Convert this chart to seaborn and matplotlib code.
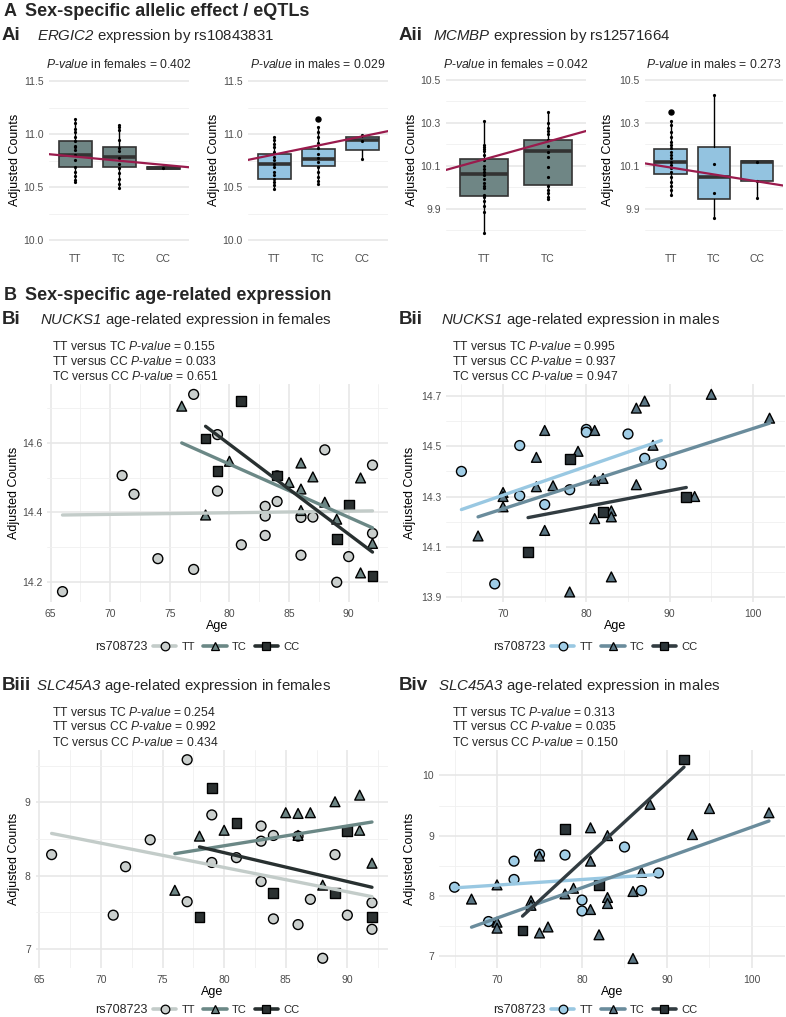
import numpy as np
import pandas as pd
import matplotlib
matplotlib.use("Agg")
import matplotlib.pyplot as plt
import seaborn as sns
from matplotlib.lines import Line2D

sns.set_theme(style="whitegrid")
plt.rcParams['font.family'] = ['Liberation Sans', 'DejaVu Sans']
plt.rcParams['mathtext.fontset'] = 'custom'
plt.rcParams['mathtext.rm'] = 'Liberation Sans'
plt.rcParams['mathtext.it'] = 'Liberation Sans:italic'
plt.rcParams['mathtext.sf'] = 'Liberation Sans:italic'
plt.rcParams['mathtext.bf'] = 'Liberation Sans:bold'

# ---------------- DATA ----------------
genotypes = ["TT", "TC", "CC"]

# Ai ERGIC2 females
ai_f_pts = {"TT": [11.138, 11.10, 11.05, 11.02, 10.97, 10.93, 10.89, 10.875, 10.85, 10.80, 10.755, 10.685, 10.645, 10.60, 10.57, 10.55],
            "TC": [11.085, 11.07, 11.04, 10.943, 10.865, 10.843, 10.77, 10.72, 10.675, 10.63, 10.58, 10.53, 10.487],
            "CC": [10.68]}
ai_f_q1 = [10.69, 10.69, 10.67]
ai_f_med = [10.80, 10.78, 10.68]
ai_f_q3 = [10.931, 10.88, 10.69]
ai_f_lo = [10.55, 10.487, 10.67]
ai_f_hi = [11.138, 11.085, 10.69]
ai_f_out = [[], [], []]
ai_f_fit = [10.81, 10.686]

# Ai ERGIC2 males
ai_m_pts = {"TT": [10.97, 10.94, 10.91, 10.874, 10.833, 10.786, 10.755, 10.717, 10.686, 10.645, 10.613, 10.58, 10.55, 10.52, 10.478],
            "TC": [11.063, 11.022, 10.97, 10.918, 10.865, 10.811, 10.77, 10.74, 10.69, 10.64, 10.594, 10.557, 10.53],
            "CC": [10.99, 10.937, 10.764]}
ai_m_q1 = [10.575, 10.698, 10.85]
ai_m_med = [10.72, 10.76, 10.943]
ai_m_q3 = [10.811, 10.858, 10.97]
ai_m_lo = [10.478, 10.53, 10.764]
ai_m_hi = [10.97, 11.063, 10.99]
ai_m_out = [[], [11.138], []]
ai_m_fit = [10.755, 11.028]

# Aii MCMBP females
aii_f_pts = {"TT": [10.309, 10.197, 10.19, 10.18, 10.17, 10.15, 10.128, 10.10, 10.085, 10.074, 10.058, 10.038, 10.023, 10.007, 9.997, 9.966, 9.955, 9.935, 9.912, 9.888, 9.787],
             "TC": [10.35, 10.298, 10.275, 10.264, 10.248, 10.22, 10.192, 10.166, 10.14, 10.097, 10.047, 10.007, 9.988, 9.972, 9.957, 9.945]}
aii_f_q1 = [9.96, 10.012]
aii_f_med = [10.063, 10.171]
aii_f_q3 = [10.131, 10.22]
aii_f_lo = [9.787, 9.943]
aii_f_hi = [10.309, 10.35]
aii_f_out = [[], []]
aii_f_fit = [10.081, 10.263]

# Aii MCMBP males
aii_m_pts = {"TT": [10.309, 10.291, 10.26, 10.233, 10.213, 10.198, 10.182, 10.167, 10.151, 10.136, 10.12, 10.105, 10.089, 10.074, 10.05, 10.027, 10.007, 9.988, 9.965],
             "TC": [10.43, 10.111, 9.976, 9.857],
             "CC": [10.117, 10.032, 9.951]}
aii_m_q1 = [10.063, 9.945, 10.032]
aii_m_med = [10.12, 10.047, 10.117]
aii_m_q3 = [10.178, 10.19, 10.123]
aii_m_lo = [9.965, 9.857, 9.951]
aii_m_hi = [10.309, 10.43, 10.123]
aii_m_out = [[10.352], [], []]
aii_m_fit = [10.112, 10.009]

# Bi NUCKS1 females
bi_age = {"TT": [66, 71, 72, 74, 77, 77, 79, 79, 81, 83, 83, 83, 84, 84, 86, 86, 87, 88, 89, 90, 92, 92],
          "TC": [76, 78, 80, 85, 86, 86, 86, 87, 88, 89, 91, 91, 92],
          "CC": [78, 79, 81, 84, 89, 90, 92]}
bi_cnt = {"TT": [14.171, 14.506, 14.452, 14.266, 14.74, 14.235, 14.624, 14.461, 14.306, 14.417, 14.389, 14.333, 14.431, 14.505, 14.385, 14.276, 14.386, 14.58, 14.198, 14.272, 14.536, 14.339],
          "TC": [14.706, 14.392, 14.547, 14.486, 14.542, 14.467, 14.405, 14.502, 14.429, 14.38, 14.499, 14.225, 14.31],
          "CC": [14.613, 14.52, 14.72, 14.506, 14.323, 14.42, 14.215]}
bi_fit_age = {"TT": [66, 92], "TC": [76, 92], "CC": [78, 92]}
bi_fit_cnt = {"TT": [14.392, 14.404], "TC": [14.60, 14.355], "CC": [14.648, 14.285]}

# Bii NUCKS1 males
bii_age = {"TT": [65, 69, 72, 72, 75, 78, 80, 80, 85, 87, 89],
           "TC": [67, 70, 70, 70, 74, 74, 75, 75, 76, 78, 79, 81, 81, 81, 82, 83, 83, 83, 86, 86, 87, 88, 93, 95, 102],
           "CC": [73, 78, 82, 92]}
bii_cnt = {"TT": [14.40, 13.952, 14.503, 14.303, 14.268, 14.327, 14.567, 14.556, 14.549, 14.452, 14.429],
           "TC": [14.143, 14.316, 14.30, 14.259, 14.456, 14.339, 14.563, 14.165, 14.343, 13.92, 14.48, 14.563, 14.365, 14.212, 14.372, 14.243, 14.219, 13.98, 14.652, 14.347, 14.68, 14.504, 14.30, 14.707, 14.612],
           "CC": [14.08, 14.449, 14.239, 14.299]}
bii_fit_age = {"TT": [65, 89], "TC": [67, 102], "CC": [73, 92]}
bii_fit_cnt = {"TT": [14.248, 14.523], "TC": [14.219, 14.592], "CC": [14.216, 14.336]}

# Biii SLC45A3 females
biii_age = {"TT": [66, 71, 72, 74, 77, 77, 79, 79, 81, 83, 83, 83, 84, 84, 86, 86, 87, 88, 89, 90, 92, 92],
            "TC": [76, 78, 80, 85, 86, 86, 87, 88, 89, 91, 91, 92],
            "CC": [78, 79, 81, 84, 89, 90, 92]}
biii_cnt = {"TT": [8.287, 7.46, 8.122, 8.49, 9.584, 7.644, 8.83, 8.18, 8.246, 8.678, 8.471, 7.92, 8.549, 7.409, 7.331, 8.54, 7.676, 6.871, 8.287, 7.46, 7.63, 7.267],
            "TC": [7.80, 8.54, 8.62, 8.86, 8.85, 8.55, 8.86, 7.87, 9.01, 9.10, 8.62, 8.17],
            "CC": [7.43, 9.198, 8.724, 7.759, 7.759, 8.609, 7.432]}
biii_fit_age = {"TT": [66, 92], "TC": [76, 92], "CC": [78, 92]}
biii_fit_cnt = {"TT": [8.577, 7.713], "TC": [8.30, 8.733], "CC": [8.393, 7.841]}

# Biv SLC45A3 males
biv_age = {"TT": [65, 69, 72, 72, 75, 78, 80, 80, 85, 87, 89],
           "TC": [67, 70, 70, 70, 74, 74, 75, 75, 76, 78, 79, 81, 81, 81, 82, 83, 83, 83, 86, 86, 87, 88, 93, 95, 102],
           "CC": [73, 78, 82, 92]}
biv_cnt = {"TT": [8.141, 7.57, 8.575, 8.27, 8.688, 8.677, 7.927, 7.746, 8.81, 8.085, 8.378],
           "TC": [7.944, 8.18, 7.56, 7.46, 7.915, 7.84, 8.66, 7.38, 7.48, 8.03, 8.124, 9.13, 8.575, 7.77, 7.35, 9.0, 7.97, 7.87, 8.07, 6.955, 8.39, 9.52, 9.017, 9.45, 9.38],
           "CC": [7.42, 9.11, 8.18, 10.265]}
biv_fit_age = {"TT": [65, 89], "TC": [67, 102], "CC": [73, 92]}
biv_fit_cnt = {"TT": [8.13, 8.353], "TC": [7.476, 9.243], "CC": [7.66, 10.14]}

# ---------------- STYLE ----------------
W, H = 786, 1017
fig = plt.figure(figsize=(W / 100, H / 100), dpi=100)
fig.patch.set_facecolor("white")

RED = "#9a1b4d"
BOX_F = "#6f8685"
BOX_M = "#93c3e0"
EDGE = "#333333"
F_FILL = {"TT": "#cacfcd", "TC": "#6d8584", "CC": "#2b3131"}
F_LINE = {"TT": "#c3ccc9", "TC": "#6b8886", "CC": "#283030"}
M_FILL = {"TT": "#a0cde6", "TC": "#5b7684", "CC": "#2b3438"}
M_LINE = {"TT": "#99c8e2", "TC": "#6a8c9c", "CC": "#323c41"}
MARKERS = {"TT": "o", "TC": "^", "CC": "s"}
TICK_C = "#4d4d4d"


def axes_px(l, t, r, b):
    return fig.add_axes([l / W, 1 - b / H, (r - l) / W, (b - t) / H])


def ftext(x, y, s, **kw):
    fig.text(x / W, 1 - y / H, s, va="center", ha="left", **kw)


def base_style(ax):
    ax.set_facecolor("white")
    for s in ax.spines.values():
        s.set_visible(False)
    ax.set_axisbelow(True)
    ax.grid(True, which="major", color="#e6e6e6", lw=1.1)
    ax.grid(True, which="minor", color="#f0f0f0", lw=0.6)
    ax.tick_params(which="both", length=0, labelsize=7.5, labelcolor=TICK_C, pad=3.5)


def set_ylabel_px(ax, box, xc):
    l, t, r, b = box
    ax.set_ylabel("Adjusted Counts", fontsize=9, color="black")
    ax.yaxis.set_label_coords((xc + 8 - l) / (r - l), 0.5)


def box_panel(box, pts, q1, med, q3, lo, hi, out, fit, fill, title, ylim, yt, ytl, yminor, ylab_x):
    ax = axes_px(*box)
    base_style(ax)
    cats = list(pts.keys())
    n = len(cats)
    rows = [(g, v) for g in cats for v in pts[g]]
    df = pd.DataFrame(rows, columns=["Genotype", "Counts"])
    stats = []
    for i in range(n):
        stats.append(dict(med=med[i], q1=q1[i], q3=q3[i], whislo=lo[i], whishi=hi[i], fliers=out[i]))
    ax.bxp(stats, positions=list(range(n)), widths=0.75, patch_artist=True, showcaps=False,
           manage_ticks=False,
           boxprops=dict(facecolor=fill, edgecolor=EDGE, lw=1.2),
           medianprops=dict(color=EDGE, lw=2.6, solid_capstyle="butt"),
           whiskerprops=dict(color="black", lw=1.0),
           flierprops=dict(marker="o", markerfacecolor="black", markeredgecolor="black", markersize=3.6),
           zorder=2)
    sns.stripplot(data=df, x="Genotype", y="Counts", order=cats, jitter=False, color="black",
                  size=2.3, ax=ax, zorder=3)
    fdf = pd.DataFrame({"x": [-0.6, n - 0.4], "y": fit})
    sns.lineplot(data=fdf, x="x", y="y", color=RED, lw=1.6, ax=ax, zorder=4)
    ax.set_xlim(-0.6, n - 0.4)
    ax.set_ylim(*ylim)
    ax.set_xticks(range(n))
    ax.set_xticklabels(cats)
    ax.set_yticks(yt)
    ax.set_yticklabels(ytl)
    ax.set_yticks(yminor, minor=True)
    ax.grid(False, axis="x", which="minor")
    ax.set_xlabel("")
    set_ylabel_px(ax, box, ylab_x)
    ax.set_title(title, fontsize=8.7, pad=3)
    ax.tick_params(axis="x", pad=5)
    return ax


def scatter_panel(box, ages, cnts, fit_age, fit_cnt, fills, lines, xlim, ylim, xt, xminor, yt, ytl, yminor, ylab_x):
    ax = axes_px(*box)
    base_style(ax)
    rows = [(g, a, c) for g in genotypes for a, c in zip(ages[g], cnts[g])]
    df = pd.DataFrame(rows, columns=["Genotype", "Age", "Counts"])
    sns.scatterplot(data=df, x="Age", y="Counts", hue="Genotype", style="Genotype",
                    hue_order=genotypes, style_order=genotypes, markers=MARKERS,
                    palette=fills, s=50, edgecolor="black", linewidth=1.0, legend=False,
                    ax=ax, zorder=3)
    frows = [(g, a, c) for g in genotypes for a, c in zip(fit_age[g], fit_cnt[g])]
    fdf = pd.DataFrame(frows, columns=["Genotype", "Age", "Counts"])
    sns.lineplot(data=fdf, x="Age", y="Counts", hue="Genotype", hue_order=genotypes,
                 palette=lines, lw=2.4, estimator=None, legend=False, ax=ax, zorder=4)
    ax.set_xlim(*xlim)
    ax.set_ylim(*ylim)
    ax.set_xticks(xt)
    ax.set_xticklabels([str(v) for v in xt])
    ax.set_xticks(xminor, minor=True)
    ax.set_yticks(yt)
    ax.set_yticklabels(ytl)
    ax.set_yticks(yminor, minor=True)
    ax.set_xlabel("Age", fontsize=9, color="black")
    ax.xaxis.set_label_coords(0.5, -(620 - 602) / (box[3] - box[1]))
    set_ylabel_px(ax, box, ylab_x)
    ax.tick_params(axis="x", pad=5)
    return ax


def legend_px(x, y, fills, lines):
    ftext(x, y, "rs708723", fontsize=9)
    handles = [Line2D([0], [0], color=lines[g], lw=2.6, marker=MARKERS[g], markersize=6.2,
                      markerfacecolor=fills[g], markeredgecolor="black", markeredgewidth=0.9)
               for g in genotypes]
    fig.legend(handles, genotypes, loc="center left", bbox_to_anchor=((x + 58) / W, 1 - y / H),
               ncol=3, frameon=False, handlelength=2.1, handletextpad=0.5, columnspacing=0.7,
               fontsize=8, borderaxespad=0, borderpad=0)


# ---------------- HEADINGS ----------------
TS = 10.8
LS = 13.5
ftext(4, 12, "A", fontsize=13, fontweight="bold")
ftext(25, 12, "Sex-specific allelic effect / eQTLs", fontsize=13, fontweight="bold")
ftext(2, 36, "Ai", fontsize=LS, fontweight="bold")
ftext(37, 36, r"$\mathsf{ERGIC2}$ expression by rs10843831", fontsize=TS)
ftext(399, 36, "Aii", fontsize=LS, fontweight="bold")
ftext(433, 36, r"$\mathsf{MCMBP}$ expression by rs12571664", fontsize=TS)

ftext(4, 295, "B", fontsize=13, fontweight="bold")
ftext(25, 295, "Sex-specific age-related expression", fontsize=13, fontweight="bold")
ftext(2, 320, "Bi", fontsize=LS, fontweight="bold")
ftext(40, 320, r"$\mathsf{NUCKS1}$ age-related expression in females", fontsize=TS)
ftext(399, 320, "Bii", fontsize=LS, fontweight="bold")
ftext(441, 320, r"$\mathsf{NUCKS1}$ age-related expression in males", fontsize=TS)
ftext(2, 686, "Biii", fontsize=LS, fontweight="bold")
ftext(36, 686, r"$\mathsf{SLC45A3}$ age-related expression in females", fontsize=TS)
ftext(399, 686, "Biv", fontsize=LS, fontweight="bold")
ftext(438, 686, r"$\mathsf{SLC45A3}$ age-related expression in males", fontsize=TS)

PV = r"$\mathsf{P}$-$\mathsf{value}$"


def annot(x, y0, vals):
    labs = ["TT versus TC", "TT versus CC", "TC versus CC"]
    for i, (lab, v) in enumerate(zip(labs, vals)):
        ftext(x, y0 + 15 * i, f"{lab} {PV} = {v}", fontsize=8.7)


annot(52, 346, ["0.155", "0.033", "0.651"])
annot(452, 346, ["0.995", "0.937", "0.947"])
annot(52, 712, ["0.254", "0.992", "0.434"])
annot(452, 712, ["0.313", "0.035", "0.150"])

# ---------------- PANELS A ----------------
ai_yt = [10.0, 10.5, 11.0, 11.5]
ai_ytl = ["10.0", "10.5", "11.0", "11.5"]
ai_minor = [10.25, 10.75, 11.25]
aii_yt = [9.9, 10.1, 10.3, 10.5]
aii_ytl = ["9.9", "10.1", "10.3", "10.5"]
aii_minor = [9.8, 10.0, 10.2, 10.4]

box_panel((48.6, 72, 189.4, 247), ai_f_pts, ai_f_q1, ai_f_med, ai_f_q3, ai_f_lo, ai_f_hi, ai_f_out, ai_f_fit,
          BOX_F, PV + " in females = 0.402", (9.934, 11.585), ai_yt, ai_ytl, ai_minor, 13)
box_panel((247.6, 72, 388.4, 247), ai_m_pts, ai_m_q1, ai_m_med, ai_m_q3, ai_m_lo, ai_m_hi, ai_m_out, ai_m_fit,
          BOX_M, PV + " in males = 0.029", (9.934, 11.585), ai_yt, ai_ytl, ai_minor, 212)
box_panel((445.6, 72, 586.4, 247), aii_f_pts, aii_f_q1, aii_f_med, aii_f_q3, aii_f_lo, aii_f_hi, aii_f_out, aii_f_fit,
          BOX_F, PV + " in females = 0.042", (9.723, 10.537), aii_yt, aii_ytl, aii_minor, 410)
box_panel((644.7, 72, 783, 247), aii_m_pts, aii_m_q1, aii_m_med, aii_m_q3, aii_m_lo, aii_m_hi, aii_m_out, aii_m_fit,
          BOX_M, PV + " in males = 0.273", (9.723, 10.537), aii_yt, aii_ytl, aii_minor, 606)

# ---------------- PANELS B ----------------
scatter_panel((47, 384, 388, 602), bi_age, bi_cnt, bi_fit_age, bi_fit_cnt, F_FILL, F_LINE,
              (64.7, 93.3), (14.141, 14.77), [65, 70, 75, 80, 85, 90], [67.5, 72.5, 77.5, 82.5, 87.5, 92.5],
              [14.2, 14.4, 14.6], ["14.2", "14.4", "14.6"], [14.3, 14.5, 14.7], 12)
scatter_panel((446, 384, 785, 602), bii_age, bii_cnt, bii_fit_age, bii_fit_cnt, M_FILL, M_LINE,
              (63.15, 103.85), (13.88, 14.748), [70, 80, 90, 100], [65, 75, 85, 95],
              [13.9, 14.1, 14.3, 14.5, 14.7], ["13.9", "14.1", "14.3", "14.5", "14.7"], [14.0, 14.2, 14.4, 14.6], 408)
scatter_panel((35.6, 750, 388, 968), biii_age, biii_cnt, biii_fit_age, biii_fit_cnt, F_FILL, F_LINE,
              (64.7, 93.3), (6.738, 9.717), [65, 70, 75, 80, 85, 90], [67.5, 72.5, 77.5, 82.5, 87.5, 92.5],
              [7, 8, 9], ["7", "8", "9"], [7.5, 8.5, 9.5], 12)
scatter_panel((438.8, 750, 784.7, 968), biv_age, biv_cnt, biv_fit_age, biv_fit_cnt, M_FILL, M_LINE,
              (63.15, 103.85), (6.797, 10.424), [70, 80, 90, 100], [65, 75, 85, 95],
              [7, 8, 9, 10], ["7", "8", "9", "10"], [7.5, 8.5, 9.5], 408)

legend_px(95, 647, F_FILL, F_LINE)
legend_px(493, 647, M_FILL, M_LINE)
legend_px(95, 1010, F_FILL, F_LINE)
legend_px(493, 1010, M_FILL, M_LINE)

fig.savefig("out.png", dpi=100, facecolor="white")
